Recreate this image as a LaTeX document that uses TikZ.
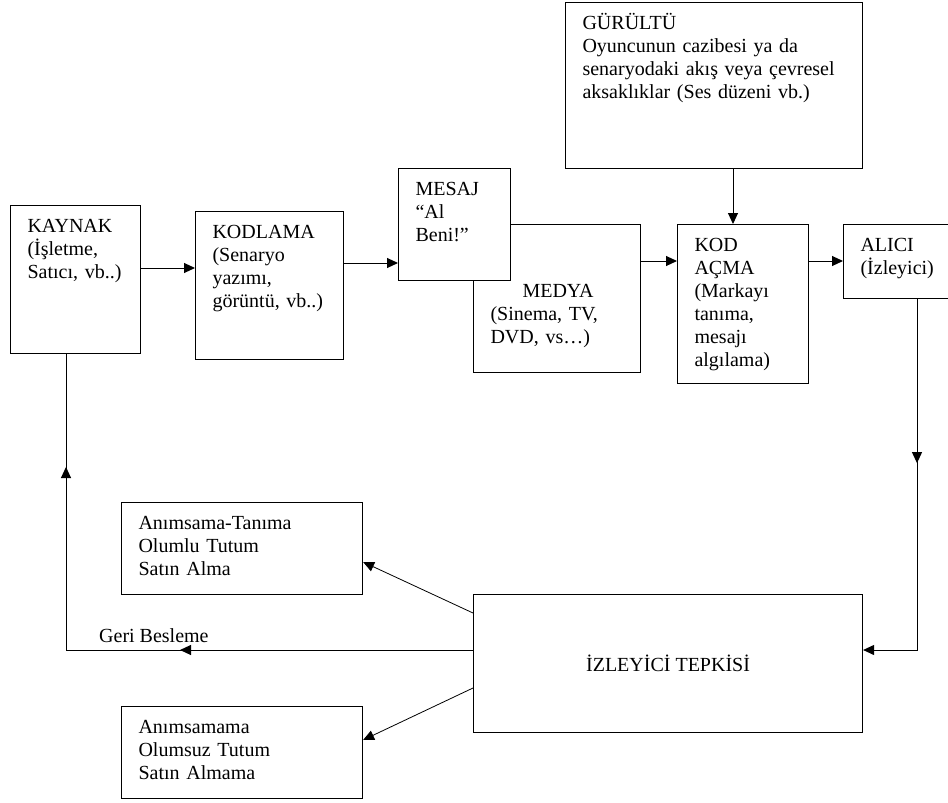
\documentclass[tikz,border=0pt]{standalone}
\usepackage{fontspec}
\setmainfont{Liberation Serif}
\usepackage{tikz}
\usetikzlibrary{arrows.meta,decorations.markings}
\newcommand{\yazi}{\fontsize{20}{23}\selectfont}
\tikzstyle{kutu} = [draw, line width=1.1pt, fill=white, anchor=north west, align=left, inner xsep=17pt, inner ysep=14pt, text height=13pt, font=\yazi]
\tikzstyle{tepkikutu} = [draw, line width=1.1pt, fill=white, anchor=north west, minimum width=389pt, minimum height=138pt, font=\yazi]
\tikzstyle{ok} = [line width=1pt, -{Triangle[length=11pt,width=10pt]}]
\tikzset{ara ok/.style={postaction={decorate, decoration={markings, mark=at position #1 with {\arrow{Triangle[length=11pt,width=10pt]}}}}}}

\begin{document}
\begin{tikzpicture}[x=1pt,y=1pt]
\useasboundingbox (0,0) rectangle (948,-803);
\clip (0,0) rectangle (948,-803);

% Kutular
\node[kutu, text width=96pt, text depth=107pt] (kaynak) at (10,-205) {KAYNAK\\(İşletme,\\Satıcı,~vb..)};
\node[kutu, text width=114pt, text depth=107pt] (kodlama) at (195,-211) {KODLAMA\\(Senaryo\\yazımı,\\görüntü,~vb..)};
\node[kutu, text width=133pt, text depth=107pt] (medya) at (473,-224) {~\\~\\\hspace*{32pt}MEDYA\\(Sinema, TV,\\DVD, vs…)};
\node[kutu, text width=78pt, text depth=71pt] (mesaj) at (398,-168) {MESAJ\\“Al\\Beni!”};
\node[kutu, text width=263pt, text depth=125pt] (gurultu) at (565,-2) {GÜRÜLTÜ\\Oyuncunun cazibesi ya da\\senaryodaki akış veya çevresel\\aksaklıklar (Ses düzeni vb.)};
\node[kutu, text width=97pt, text depth=118pt] (kodacma) at (677,-224) {KOD\\AÇMA\\(Markayı\\tanıma,\\mesajı\\algılama)};
\node[kutu, text width=90pt, text depth=33pt] (alici) at (843,-224) {ALICI\\(İzleyici)};
\node[tepkikutu] (tepki) at (473,-594) {İZLEYİCİ TEPKİSİ};
\node[kutu, text width=207pt, text depth=51pt] (olumlu) at (121,-502) {Anımsama-Tanıma\\Olumlu Tutum\\Satın Alma};
\node[kutu, text width=207pt, text depth=51pt] (olumsuz) at (121,-706) {Anımsamama\\Olumsuz Tutum\\Satın Almama};

% Oklar
\draw[ok] (kaynak.east |- 0,-268) -- (kodlama.west |- 0,-268);
\draw[ok] (kodlama.east |- 0,-263) -- (mesaj.west |- 0,-263);
\draw[ok] (medya.east |- 0,-261) -- (kodacma.west |- 0,-261);
\draw[ok] (kodacma.east |- 0,-261) -- (alici.west |- 0,-261);
\draw[ok] (gurultu.south -| 733,0) -- (kodacma.north -| 733,0);
\draw[ok, ara ok=164pt] (alici.south -| 917,0) -- (917,-650) -- (tepki.east |- 0,-650);

% Geri besleme
\draw[line width=1pt, ara ok=293pt, ara ok=590pt] (tepki.west |- 0,-650) -- (66,-650) -- (kaynak.south -| 66,0);
\node[font=\yazi, anchor=base west, inner sep=0pt] (geri) at (99,-642) {Geri Besleme};

\draw[ok, line width=0.8pt] (tepki.west |- 0,-613) -- (olumlu.east |- 0,-562);
\draw[ok, line width=0.8pt] (tepki.west |- 0,-688) -- (olumsuz.east |- 0,-740);
\end{tikzpicture}
\end{document}
